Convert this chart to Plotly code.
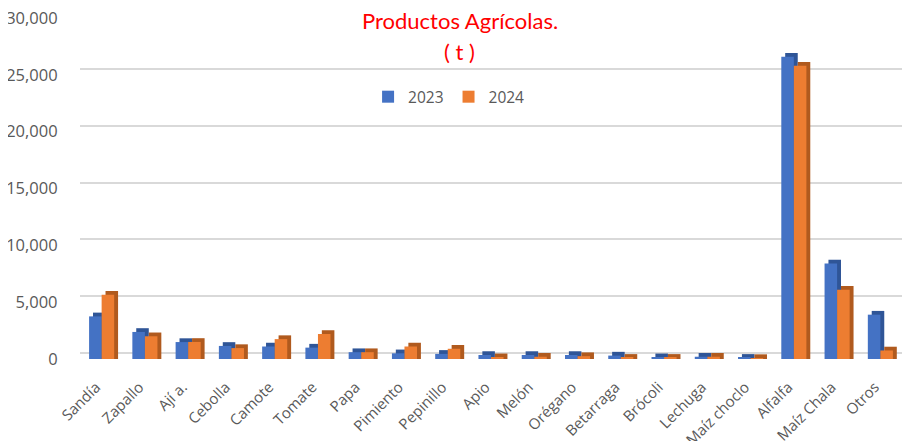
import plotly.graph_objects as go

categories = ["Sandía", "Zapallo", "Ají a.", "Cebolla", "Camote", "Tomate", "Papa",
              "Pimiento", "Pepinillo", "Apio", "Melón", "Orégano", "Betarraga",
              "Brócoli", "Lechuga", "Maíz choclo", "Alfalfa", "Maíz Chala", "Otros"]
v2023 = [3750, 2380, 1490, 1150, 1100, 1000, 600, 500, 450, 350, 350, 350, 300,
         150, 200, 100, 26600, 8400, 3900]
v2024 = [5650, 2000, 1500, 960, 1750, 2200, 600, 1100, 900, 150, 200, 250, 100,
         100, 200, 80, 25800, 6100, 750]
title_lines = ["Comparativo de la Producción de los Principales",
               "Productos Agrícolas.", "( t )"]
years = ["2023", "2024"]

BLUE, BLUE_D = "#4472C4", "#2F5597"
ORANGE, ORANGE_D = "#ED7D31", "#B05A1E"
DEPTH = 330
W = 0.29
D = 0.09
FONT = "Open Sans"
TFONT = "Lato"

fig = go.Figure()
fig.add_bar(x=categories, y=[v + DEPTH for v in v2023], width=W, offset=-W + D,
            marker=dict(color=BLUE_D, line_width=0), showlegend=False, hoverinfo="skip")
fig.add_bar(x=categories, y=v2023, width=W, offset=-W, name=years[0],
            marker=dict(color=BLUE, line_width=0))
fig.add_bar(x=categories, y=[v + DEPTH for v in v2024], width=W, offset=D,
            marker=dict(color=ORANGE_D, line_width=0), showlegend=False, hoverinfo="skip")
fig.add_bar(x=categories, y=v2024, width=W, offset=0, name=years[1],
            marker=dict(color=ORANGE, line_width=0))

fig.add_scatter(x=[categories[0]], y=[0], yaxis="y2", mode="markers",
                marker=dict(opacity=0), showlegend=False, hoverinfo="skip")

title_y = [1.070, 0.994, 0.903]
annotations = [
    dict(text=t, xref="paper", yref="paper", x=0.462, y=yy, xanchor="center",
         yanchor="middle", showarrow=False,
         font=dict(family=TFONT, size=22, color="#FF0000"))
    for t, yy in zip(title_lines, title_y)
]

fig.update_layout(
    width=917, height=441,
    margin=dict(l=72, r=23, t=10, b=90, autoexpand=False),
    paper_bgcolor="white", plot_bgcolor="white",
    barmode="overlay",
    font=dict(family=FONT, color="#595959", size=14),
    xaxis=dict(range=[-0.5, 18.5], tickangle=-45, automargin=False,
               tickfont=dict(size=15, color="#595959"), ticklabelstandoff=10,
               ticksuffix="  ", showline=False, showgrid=False, ticks=""),
    yaxis=dict(range=[0, 30000], dtick=5000, tickformat=",", showgrid=False,
               automargin=False, zeroline=False, showline=False, ticks="",
               ticklabeloverflow="allow",
               ticksuffix="     ", tickfont=dict(size=16.5, color="#595959")),
    yaxis2=dict(range=[-528, 29472], dtick=5000, overlaying="y", showgrid=True,
                automargin=False, gridcolor="#D9D9D9", gridwidth=1.8,
                showticklabels=False, zeroline=False, ticks=""),
    legend=dict(orientation="h", x=0.449, xanchor="center", y=0.768, yanchor="middle",
                font=dict(size=15.5, color="#595959"), bgcolor="rgba(0,0,0,0)",
                itemwidth=30, traceorder="normal"),
    annotations=annotations,
)

fig.write_html("out.html")
